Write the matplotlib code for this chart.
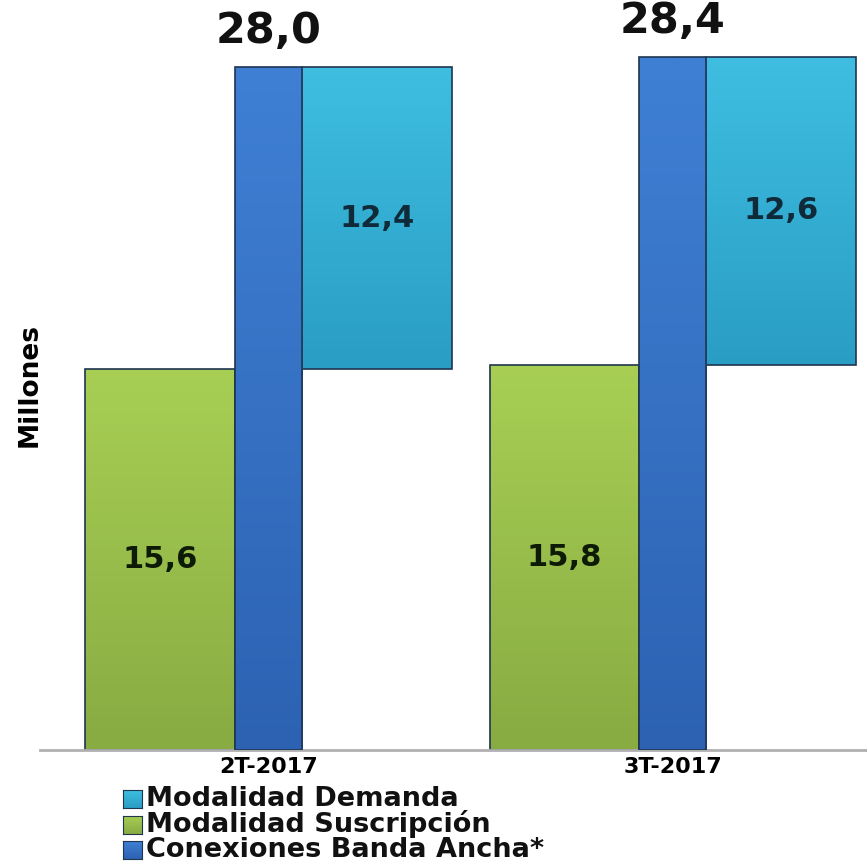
import matplotlib.pyplot as plt
import numpy as np
from matplotlib.colors import LinearSegmentedColormap
from matplotlib.patches import Rectangle

categories = ['2T-2017', '3T-2017']
suscripcion = [15.6, 15.8]
demanda = [12.4, 12.6]
total = [28.0, 28.4]
series_names = ['Modalidad Demanda', 'Modalidad Suscripción', 'Conexiones Banda Ancha*']

def fmt(v):
    return f'{v:.1f}'.replace('.', ',')

# gradient colours (top, bottom)
green = ('#a8cf54', '#88ab42')
blue = ('#3f80d4', '#2d62b2')
cyan = ('#3fbee2', '#2a9dc4')

def gradient_fill(ax, bars, cols):
    cmap = LinearSegmentedColormap.from_list('g', [cols[1], cols[0]])
    grad = np.linspace(0, 1, 256).reshape(-1, 1)
    for b in bars:
        x0, y0 = b.get_x(), b.get_y()
        w, h = b.get_width(), b.get_height()
        im = ax.imshow(grad, cmap=cmap, origin='lower', aspect='auto',
                       extent=[x0, x0 + w, y0, y0 + h], zorder=b.get_zorder() + 0.1)
        im.set_clip_path(b)
        edge = Rectangle((x0, y0), w, h, fill=False, edgecolor='#1f3550',
                         linewidth=1.2, zorder=b.get_zorder() + 0.2)
        ax.add_patch(edge)

fig = plt.figure(figsize=(8.67, 8.64), dpi=100)
ax = fig.add_axes([40 / 867, 1 - 750 / 864, 1 - 40 / 867, 750 / 864])

x = np.arange(len(categories))
wg, wb = 0.37, 0.166

b_green = ax.bar(x - wb / 2 - wg / 2, suscripcion, wg, color=green[1], zorder=2)
b_blue = ax.bar(x, total, wb, color=blue[1], zorder=3)
b_cyan = ax.bar(x + wb / 2 + wg / 2, demanda, wg, bottom=suscripcion, color=cyan[1], zorder=2)

gradient_fill(ax, b_green, green)
gradient_fill(ax, b_blue, blue)
gradient_fill(ax, b_cyan, cyan)

for i in range(len(categories)):
    ax.text(x[i] - wb / 2 - wg / 2, suscripcion[i] / 2, fmt(suscripcion[i]),
            ha='center', va='center', fontsize=22, fontweight='bold', color='#0d1a05', zorder=6)
    ax.text(x[i] + wb / 2 + wg / 2, suscripcion[i] + demanda[i] / 2, fmt(demanda[i]),
            ha='center', va='center', fontsize=22, fontweight='bold', color='#0f2a38', zorder=6)
    ax.text(x[i], total[i] + 0.6, fmt(total[i]), ha='center', va='bottom',
            fontsize=31, fontweight='bold', color='#111111', zorder=6)

ax.set_xlim(-0.565, 1.48)
ax.set_ylim(0, 30.74)
for s in ['top', 'right', 'left']:
    ax.spines[s].set_visible(False)
ax.spines['bottom'].set_color('#b0b0b0')
ax.spines['bottom'].set_linewidth(2)
ax.set_yticks([])
ax.set_xticks(x)
ax.set_xticklabels(categories, fontsize=16, fontweight='bold')
ax.tick_params(axis='x', length=0, pad=5)

fig.text(30 / 867, 1 - 385 / 864, 'Millones', rotation=90, ha='center', va='center',
         fontsize=19, fontweight='bold', family='Liberation Sans Narrow')

# legend
for j, (name, cols) in enumerate(zip(series_names, [cyan, green, blue])):
    yc = 1 - (799 + j * 25.5) / 864
    sq = fig.add_axes([123 / 867, yc - 9 / 864, 19 / 867, 18 / 864])
    cmap = LinearSegmentedColormap.from_list('l', [cols[1], cols[0]])
    sq.imshow(np.linspace(0, 1, 64).reshape(-1, 1), cmap=cmap, origin='lower', aspect='auto')
    sq.set_xticks([])
    sq.set_yticks([])
    for sp in sq.spines.values():
        sp.set_color('#1f3550')
    fig.text(146 / 867, yc, name, ha='left', va='center', fontsize=19.5, fontweight='bold',
             color='#111111')

fig.savefig('out.png', dpi=100)
